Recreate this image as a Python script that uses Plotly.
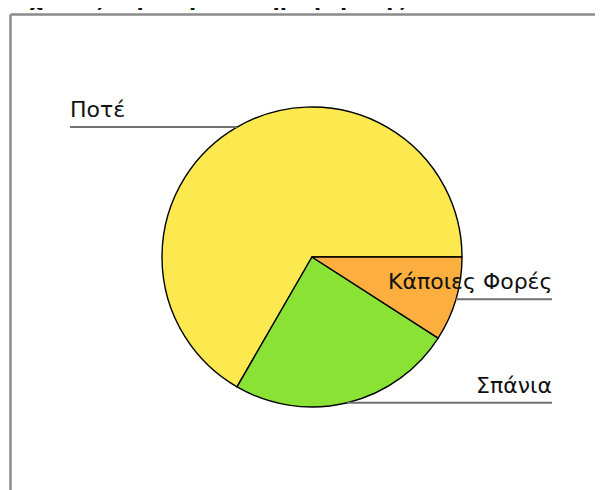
import math
import plotly.graph_objects as go

categories = ["Ποτέ", "Σπάνια", "Κάποιες Φορές"]
values = [22, 8, 3]
colors = ["#FCE94F", "#8AE234", "#FCAF3E"]
title_text = "Σχέσεις Σεμινάρια Πληροφορικής"

W, H = 603, 490
OFF = 8  # page body margin in the browser
cx, cy, R = 312, 257, 150  # pie centre / radius in page pixels

def px(x):
    return (x - OFF) / W

def py(y):
    return 1 - (y - OFF) / H

total = sum(values)
# first slice starts at 3 o'clock and runs counter-clockwise
rotation = 90 - 360.0 * values[0] / total

fig = go.Figure(go.Pie(
    labels=categories,
    values=values,
    sort=False,
    direction="counterclockwise",
    rotation=rotation,
    marker=dict(colors=colors, line=dict(color="#000000", width=1.4)),
    textinfo="none",
    hoverinfo="label+value+percent",
    domain=dict(x=[px(cx - R), px(cx + R)], y=[py(cy + R), py(cy - R)]),
    showlegend=False,
))

shapes = []
annotations = []

# frame
shapes.append(dict(type="line", xref="paper", yref="paper",
                   x0=px(10.5), x1=px(10.5), y0=py(14.5), y1=py(520),
                   line=dict(color="#8a8a8a", width=2.5)))
shapes.append(dict(type="line", xref="paper", yref="paper",
                   x0=px(10.5), x1=px(640), y0=py(14.5), y1=py(14.5),
                   line=dict(color="#8a8a8a", width=2.5)))

# leader lines and labels computed from the slice angles
start = 0.0
for cat, v in zip(categories, values):
    span = 360.0 * v / total
    mid = math.radians(start + span / 2)
    start += span
    mx = cx + R * math.cos(mid)
    my = cy - R * math.sin(mid)
    if mx < cx:
        x_end, x_txt, anchor = 70, 68, "left"
    else:
        x_end, x_txt, anchor = 552, 554, "right"
    shapes.append(dict(type="line", xref="paper", yref="paper",
                       x0=px(mx), x1=px(x_end), y0=py(my), y1=py(my),
                       line=dict(color="#707070", width=2)))
    annotations.append(dict(text=cat, xref="paper", yref="paper",
                            x=px(x_txt), y=py(my - 3), xanchor=anchor, yanchor="bottom",
                            showarrow=False,
                            font=dict(family="DejaVu Sans", size=22, color="#111111")))

annotations.append(dict(text="<b>" + title_text + "</b>", xref="paper", yref="paper",
                        x=px(13), y=py(13), xanchor="left", yanchor="bottom",
                        showarrow=False,
                        font=dict(family="DejaVu Sans", size=21, color="#111111")))

fig.update_layout(
    width=W, height=H,
    margin=dict(l=0, r=0, t=0, b=0),
    paper_bgcolor="#ffffff",
    plot_bgcolor="#ffffff",
    shapes=shapes,
    annotations=annotations,
)

fig.write_html("out.html")
